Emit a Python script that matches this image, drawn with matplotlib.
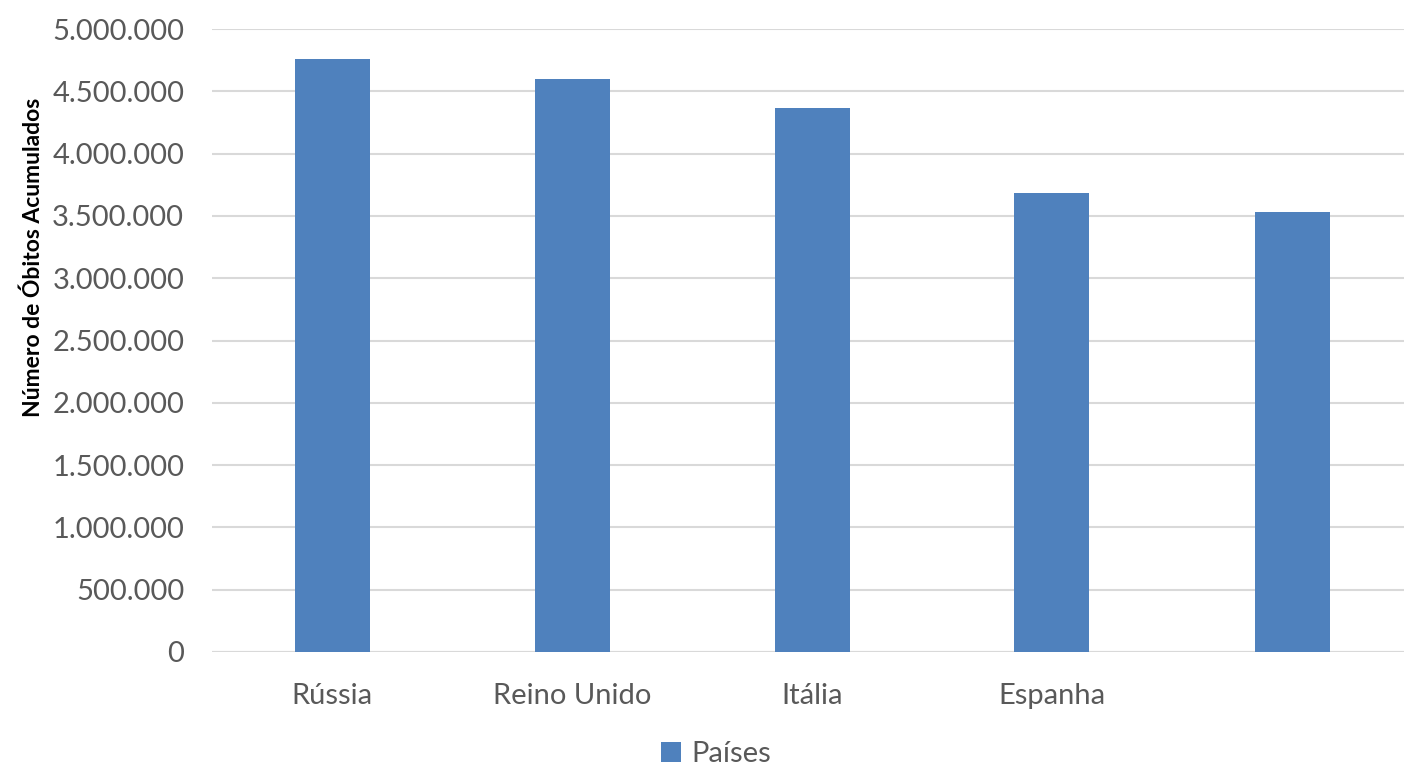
import matplotlib
matplotlib.use("Agg")
import matplotlib.pyplot as plt

plt.rcParams['font.family'] = ['Lato', 'DejaVu Sans']

categories = ["Rússia", "Reino Unido", "Itália", "Espanha", ""]
values = [4760000, 4600000, 4365000, 3685000, 3530000]
yticks = [0, 500000, 1000000, 1500000, 2000000, 2500000, 3000000, 3500000, 4000000, 4500000, 5000000]
ytick_labels = ["0", "500.000", "1.000.000", "1.500.000", "2.000.000", "2.500.000",
                "3.000.000", "3.500.000", "4.000.000", "4.500.000", "5.000.000"]

W, H = 1404, 768
fig = plt.figure(figsize=(W/100, H/100), dpi=100)
left, right = 212, 1412
top, bottom = 29, 652
ax = fig.add_axes([left/W, 1 - bottom/H, (right-left)/W, (bottom-top)/H])

x = list(range(len(categories)))
ax.bar(x, values, width=0.3125, color="#4F81BD", zorder=3, label="Países")
ax.set_xlim(-0.5, len(categories) - 0.5)
ax.set_ylim(0, 5000000)
ax.set_yticks(yticks)
ax.set_yticklabels(ytick_labels, fontsize=21, color="#595959")
ax.set_xticks(x)
ax.set_xticklabels(categories, fontsize=21, color="#595959")
ax.tick_params(axis='both', length=0)
ax.tick_params(axis='y', pad=20)
ax.tick_params(axis='x', pad=22)
ax.grid(axis='y', color="#D9D9D9", linewidth=1.5, zorder=0)
for s in ax.spines.values():
    s.set_visible(False)
ax.axhline(0, color="#D9D9D9", linewidth=1.5, zorder=2)

fig.text(33/W, 1 - 257/H, "Número de Óbitos Acumulados", rotation=90, fontsize=16.5,
         fontweight='bold', ha='center', va='center', color='black')

leg = fig.legend(loc='center', bbox_to_anchor=(716/W, 1 - 754/H), frameon=False,
                 fontsize=21, handlelength=0.7, handleheight=0.7, handletextpad=0.35,
                 labelcolor="#595959")

fig.savefig("out.png", dpi=100)
